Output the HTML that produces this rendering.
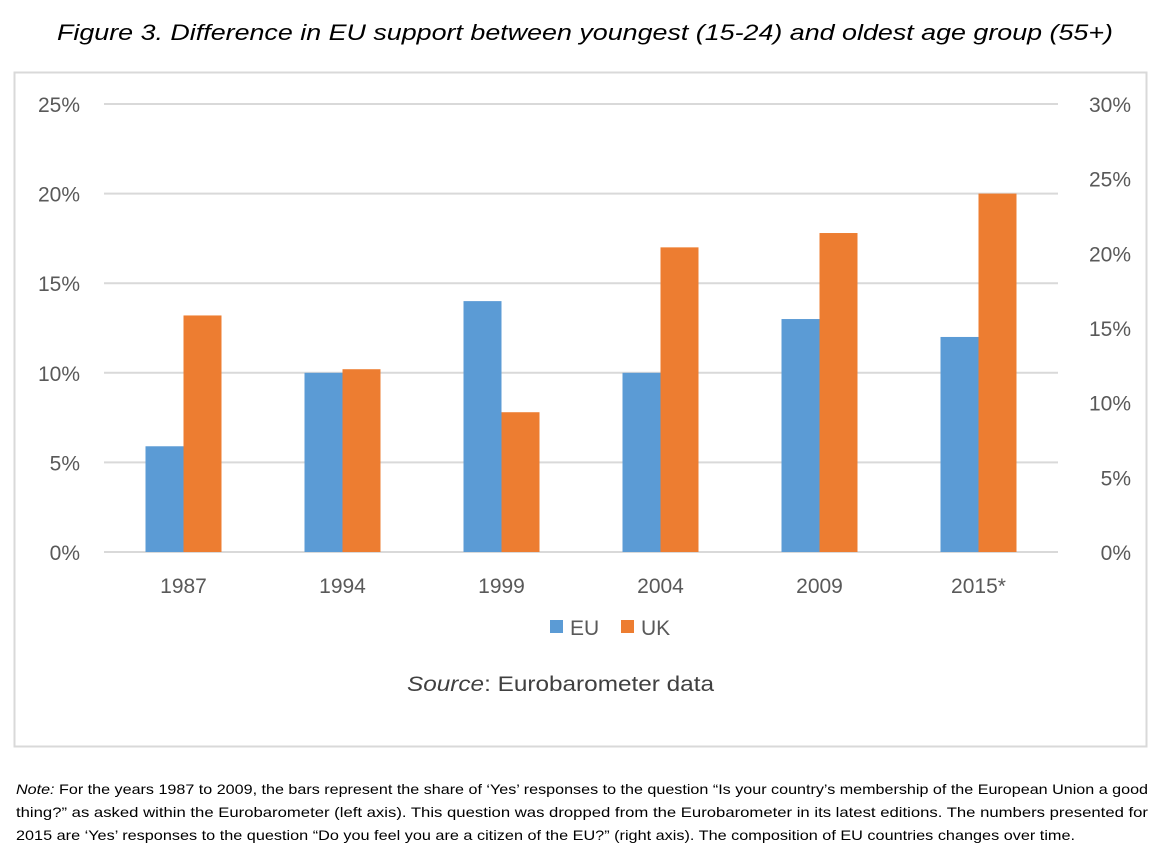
<!DOCTYPE html>
<html><head><meta charset="utf-8"><style>
body{margin:0;width:1155px;height:855px;background:#fff;overflow:hidden;font-family:"Liberation Sans",sans-serif}
svg text{font-family:"Liberation Sans",sans-serif}
</style></head><body>
<svg id="chart" width="1155" height="855">
<text x="57" y="40" textLength="1056" lengthAdjust="spacingAndGlyphs" font-size="22" font-style="italic" fill="#000">Figure 3. Difference in EU support between youngest (15-24) and oldest age group (55+)</text>
<rect x="14.5" y="72.5" width="1132" height="674" fill="none" stroke="#d9d9d9" stroke-width="2"/>
<g id="grid"></g><g id="bars"></g><g id="labels"></g>
<rect x="550" y="620" width="13" height="13" fill="#5b9bd5"/>
<text x="570" y="635" font-size="21" fill="#595959">EU</text>
<rect x="621" y="620" width="13" height="13" fill="#ed7d31"/>
<text x="641" y="635" font-size="21" fill="#595959">UK</text>
<text x="407" y="691" textLength="307" lengthAdjust="spacingAndGlyphs" font-size="21" fill="#404040"><tspan font-style="italic">Source</tspan>: Eurobarometer data</text>
<g font-size="14" fill="#000">
<text x="16" y="794" textLength="1132" lengthAdjust="spacingAndGlyphs"><tspan font-style="italic">Note:</tspan> For the years 1987 to 2009, the bars represent the share of ‘Yes’ responses to the question “Is your country’s membership of the European Union a good</text>
<text x="16" y="817" textLength="1132" lengthAdjust="spacingAndGlyphs">thing?” as asked within the Eurobarometer (left axis). This question was dropped from the Eurobarometer in its latest editions. The numbers presented for</text>
<text x="16" y="840" textLength="1059" lengthAdjust="spacingAndGlyphs">2015 are ‘Yes’ responses to the question “Do you feel you are a citizen of the EU?” (right axis). The composition of EU countries changes over time.</text>
</g>
</svg>
<script>
const categories=["1987","1994","1999","2004","2009","2015*"];
const euValues=[5.9,10,14,10,13,12];
const ukValues=[13.2,10.2,7.8,17,17.8,20];
const leftTicks=[0,5,10,15,20,25];
const rightTicks=[0,5,10,15,20,25,30];
const NS="http://www.w3.org/2000/svg";
const x0=104,x1=1058,yTop=104,yBot=552;
const yL=v=>yBot-(v/25)*(yBot-yTop);
const yR=v=>yBot-(v/30)*(yBot-yTop);
const band=(x1-x0)/categories.length;
const xC=i=>x0+band*(i+0.5);
function mk(tag,attrs,parent){const e=document.createElementNS(NS,tag);for(const k in attrs)e.setAttribute(k,attrs[k]);document.getElementById(parent).appendChild(e);return e;}
leftTicks.forEach(t=>{
 const l=mk('line',{x1:x0,x2:x1,y1:yL(t),y2:yL(t),stroke:'#d9d9d9','stroke-width':2},'grid');
 
 
 const tx=mk('text',{x:80,y:yL(t)+8,'text-anchor':'end','font-size':21,fill:'#595959'},'labels');
 tx.textContent=t+'%';
 
 
});
rightTicks.forEach(t=>{
 const tx=mk('text',{x:1131,y:yR(t)+8,'text-anchor':'end','font-size':21,fill:'#595959'},'labels');
 tx.textContent=t+'%';
 
 
});
const bw=38;
categories.forEach((c,i)=>{
 const cx=xC(i);
 const b1=mk('rect',{x:cx-bw,y:yL(euValues[i]),width:bw,height:yBot-yL(euValues[i]),fill:'#5b9bd5'},'bars');
 
 
 const b2=mk('rect',{x:cx,y:yL(ukValues[i]),width:bw,height:yBot-yL(ukValues[i]),fill:'#ed7d31'},'bars');
 
 
 const tx=mk('text',{x:cx,y:593,'text-anchor':'middle','font-size':21,fill:'#595959'},'labels');
 tx.textContent=c;
 
 
});
</script>
</body></html>
